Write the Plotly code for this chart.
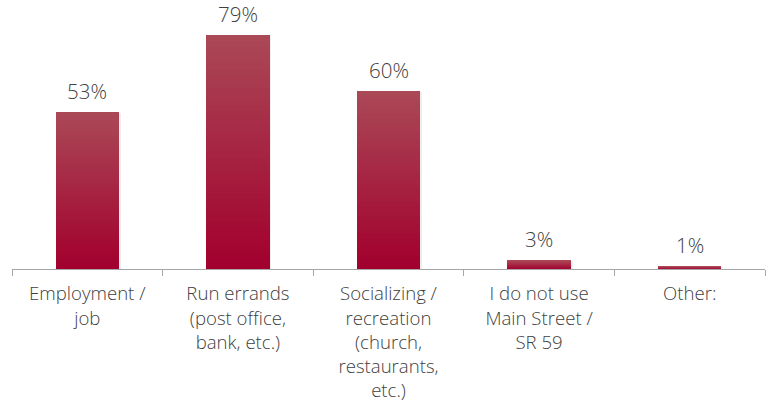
import plotly.graph_objects as go

# Survey results: reasons for using Main Street / SR 59
categories = [
    "Employment /<br>job",
    "Run errands<br>(post office,<br>bank, etc.)",
    "Socializing /<br>recreation<br>(church,<br>restaurants,<br>etc.)",
    "I do not use<br>Main Street /<br>SR 59",
    "Other:",
]
values = [53, 79, 60, 3, 1]
value_labels = ["53%", "79%", "60%", "3%", "1%"]

# vertical gradient: dark crimson at the base, lighter rose at the top
bottom_rgb = (162, 0, 46)
top_rgb = (170, 72, 86)
n_steps = 40

FONT = "Open Sans"
TEXT_COLOR = "#404040"
TICK_SIZE = 18.6
LABEL_SIZE = 20.5
FONT_WEIGHT = 350


def blend(t):
    r, g, b = (round(bottom_rgb[i] + (top_rgb[i] - bottom_rgb[i]) * t) for i in range(3))
    return f"rgb({r},{g},{b})"


fig = go.Figure()

# faint drop shadow behind each bar
fig.add_trace(go.Bar(
    x=categories, y=values, width=0.42, offset=-0.198,
    marker=dict(color="rgba(0,0,0,0.07)", line=dict(width=0)),
    hoverinfo="skip", showlegend=False, base=[-0.4] * len(values),
))

# each bar is a stack of thin slices so it can carry a gradient
for k in range(n_steps):
    fig.add_trace(go.Bar(
        x=categories,
        y=[v / n_steps for v in values],
        width=0.42,
        marker=dict(color=blend(k / (n_steps - 1)), line=dict(width=0)),
        hoverinfo="skip",
        showlegend=False,
    ))

# value labels above the bars
for cat, v, lab in zip(categories, values, value_labels):
    fig.add_annotation(
        x=cat, y=v, text=lab, showarrow=False,
        yanchor="bottom", yshift=5,
        font=dict(family=FONT, size=LABEL_SIZE, color=TEXT_COLOR, weight=FONT_WEIGHT),
    )

fig.update_layout(
    width=770, height=407,
    margin=dict(l=12, r=5, t=3, b=138),
    barmode="stack",
    plot_bgcolor="white", paper_bgcolor="white",
    font=dict(family=FONT, size=TICK_SIZE, color=TEXT_COLOR),
    xaxis=dict(
        type="category", range=[-0.5, 4.5],
        showline=True, linecolor="#a6a6a6", linewidth=1,
        ticks="outside", tickson="boundaries", ticklen=6,
        tickcolor="#a6a6a6", tickwidth=1, ticklabelstandoff=8,
        showgrid=False,
        tickfont=dict(family=FONT, size=TICK_SIZE, color=TEXT_COLOR, weight=FONT_WEIGHT),
    ),
    yaxis=dict(range=[0, 89.8], visible=False, showgrid=False, zeroline=False),
)

fig.write_html("out.html")
